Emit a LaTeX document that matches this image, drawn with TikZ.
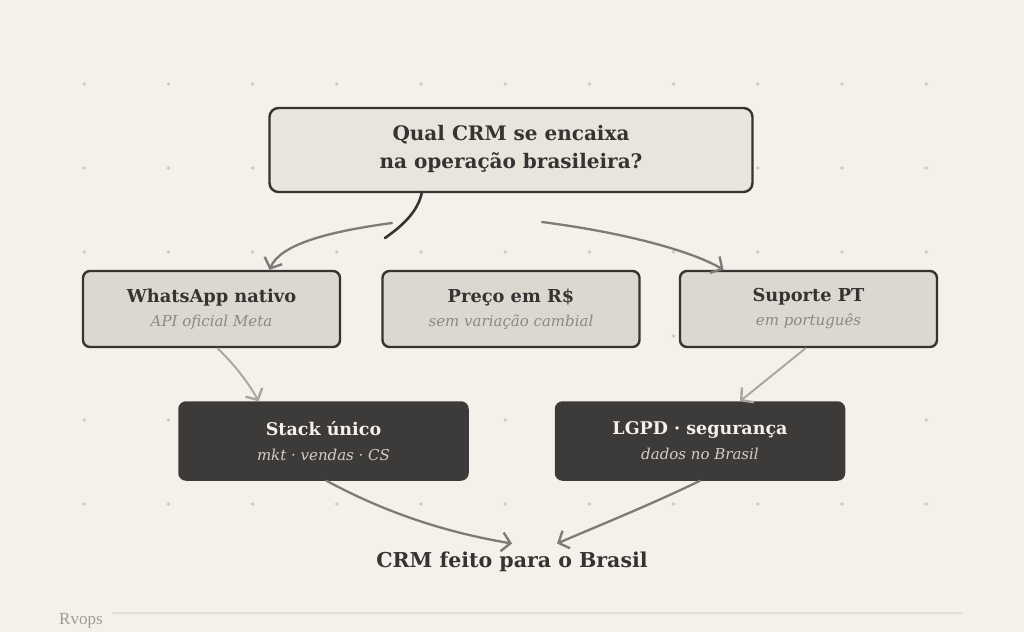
\documentclass[tikz,border=0pt]{standalone}
\usepackage{fontspec}
\setmainfont{DejaVu Serif}
\newfontfamily\footfont{Liberation Serif}
\usetikzlibrary{arrows.meta}
\definecolor{bg}{HTML}{F4F0EA}
\definecolor{dotc}{HTML}{CFCAC4}
\definecolor{ink}{HTML}{353432}
\definecolor{topfill}{HTML}{E9E4DC}
\definecolor{midfill}{HTML}{DCD8D0}
\definecolor{darkfill}{HTML}{3D3B39}
\definecolor{subgray}{HTML}{8C8985}
\definecolor{lightsub}{HTML}{D2CEC7}
\definecolor{lighttext}{HTML}{F4F0EA}
\definecolor{arrowmid}{HTML}{7E7B77}
\definecolor{arrowlight}{HTML}{A9A6A1}
\definecolor{rule}{HTML}{E2DED8}
\definecolor{footc}{HTML}{9E9A94}
\tikzset{
  topbox/.style={draw=ink, line width=2.4pt, fill=topfill, rounded corners=9pt,
    minimum width=483pt, minimum height=84pt, align=center, text=ink,
    font=\bfseries\fontsize{20}{28}\selectfont},
  midbox/.style={draw=ink, line width=2.4pt, fill=midfill, rounded corners=7pt,
    minimum width=257pt, minimum height=76pt, align=center, text=ink,
    font=\fontsize{17.8}{24}\selectfont},
  darkbox/.style={draw=darkfill, line width=1.5pt, fill=darkfill, rounded corners=7pt,
    minimum width=289pt, minimum height=78pt, align=center, text=lighttext,
    font=\fontsize{17.5}{25}\selectfont},
  conn/.style={draw=arrowmid, line width=2.3pt, line cap=round},
  connlight/.style={draw=arrowlight, line width=1.9pt, line cap=round},
  tip/.style={-{Straight Barb[length=8.5pt,width=19pt,line width=2.4pt]}},
}
\newcommand{\subt}[1]{{\itshape\fontsize{15}{24}\selectfont #1}}
\begin{document}
\begin{tikzpicture}[x=1pt,y=-1pt]
\fill[bg] (0,0) rectangle (1024,632);
\useasboundingbox (0,0) rectangle (1024,632);
% dot grid
\foreach \i in {1,...,11}{
  \foreach \j in {1,...,6}{
    \fill[dotc] (84.2*\i,84*\j) circle (1.9);
  }
}
% nodes
\node[topbox, text depth=6pt] (q) at (511,150) {Qual CRM se encaixa\\na operação brasileira?};
\node[midbox] (wa) at (211.5,309) {\textbf{WhatsApp nativo}\\\subt{\color{subgray}API oficial Meta}};
\node[midbox] (pr) at (511,309) {\textbf{Preço em R\$}\\\subt{\color{subgray}sem variação cambial}};
\node[midbox] (pt) at (808.5,309) {\textbf{Suporte PT}\\\subt{\color{subgray}em português}};
\node[darkbox] (st) at (323.5,441) {\textbf{Stack único}\\\subt{\color{lightsub}mkt · vendas · CS}};
\node[darkbox] (lg) at (700,441) {\textbf{LGPD · segurança}\\\subt{\color{lightsub}dados no Brasil}};
\node[text=ink, font=\bfseries\fontsize{20.5}{25}\selectfont] (br) at (512,562) {CRM feito para o Brasil};
% footer
\node[anchor=west, text=footc, font=\footfont\fontsize{17}{20}\selectfont, inner sep=0pt] (rv) at (59,621) {Rvops};
\coordinate (ruleA) at (112,613);
\coordinate (ruleB) at (963,613);
\draw[rule, line width=1.5pt] (ruleA) -- (ruleB);
% connectors
\coordinate (qs) at (422,192);
\coordinate (qe) at (385,238);
\draw[ink, line width=2.6pt, line cap=round] (qs) .. controls (418,212) and (402,226) .. (qe);
\coordinate (la) at (392,223);
\coordinate (ra) at (542,222);
\draw[conn, tip] (la) .. controls (325,232) and (280,245) .. ([xshift=58pt]wa.north);
\draw[conn, tip] (ra) .. controls (620,232) and (690,250) .. ([xshift=-85pt]pt.north);
\draw[connlight, tip] ([xshift=6pt]wa.south) .. controls (235,365) and (250,385) .. ([xshift=-65pt]st.north);
\draw[connlight, tip] ([xshift=-3pt]pt.south) .. controls (785,365) and (760,385) .. ([xshift=40pt]lg.north);
\draw[conn, tip] ([xshift=3pt]st.south) .. controls (390,515) and (450,533) .. ([xshift=0pt,yshift=5pt]br.north);
\draw[conn, tip] ([xshift=0pt]lg.south) .. controls (650,505) and (600,525) .. ([xshift=45pt,yshift=5pt]br.north);
\end{tikzpicture}
\end{document}
